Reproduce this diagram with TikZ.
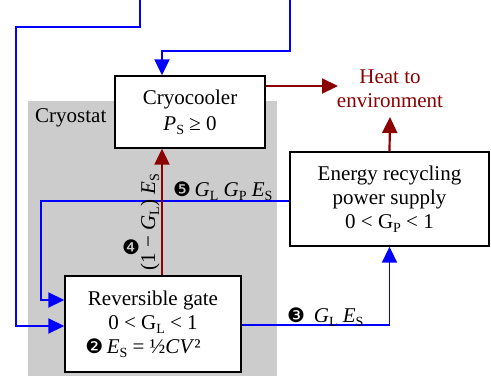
\documentclass[tikz,border=0pt]{standalone}
\usepackage{fontspec}
\setmainfont{Liberation Serif}
\newfontfamily\djfont{DejaVu Sans}
\usetikzlibrary{arrows.meta}
\definecolor{heatred}{RGB}{139,0,0}
\definecolor{flowblue}{RGB}{0,0,255}
\definecolor{cryogray}{RGB}{204,204,204}
\newcommand\lo[1]{\raisebox{-4pt}{\fontsize{14}{14}\selectfont #1}}
\newcommand\cnum[1]{{\fontsize{20}{20}\djfont #1}}
\begin{document}
\begin{tikzpicture}[x=1pt,y=-1pt,
  font=\fontsize{21}{24}\selectfont,
  box/.style={draw=black, line width=1.4pt, fill=white, align=center, inner sep=0pt},
  bflow/.style={draw=flowblue, line width=1.9pt, -{Triangle[length=16pt,width=15pt]}},
  rflow/.style={draw=heatred, line width=2.2pt, -{Triangle[length=16pt,width=15pt]}},
  lbl/.style={inner sep=0pt, anchor=base west}]
\useasboundingbox (0,0) rectangle (491,376);
\fill[cryogray] (28,101) rectangle (277,376);
\node[lbl] (cryostat) at (35,122) {Cryostat};

\node[box, minimum width=150pt, minimum height=72pt] (cc) at (190,112)
  {Cryocooler\\[2pt] \textit{P}\lo{S} ≥ 0};
\node[box, minimum width=176pt, minimum height=96pt] (gate) at (153,324)
  {Reversible gate\\ 0 < G\lo{L} < 1\\ \hspace*{-20pt}\cnum{❷}\,\textit{E}\lo{S} = ½\textit{CV}²};
\node[box, minimum width=199pt, minimum height=94pt] (en) at (389.5,199)
  {Energy recycling\\ power supply\\ 0 < G\lo{P} < 1};
\node[align=center, text=heatred, inner xsep=0pt, inner ysep=9pt, anchor=south] (heat) at (390,117)
  {Heat to\\ environment};

\coordinate (t1) at (140,0);
\coordinate (t2) at (290,0);
\coordinate (h1) at (338,86);

% supply lines from above
\draw[bflow] (t1) -- (140,27) -- (16,27) |- ([yshift=-2pt]gate.west);
\draw[bflow] (t2) -- (290,51) -- (162,51) -- (cc.north -| 162,0);

% (5) recycled energy back to gate
\draw[bflow] ([yshift=-2pt]en.west) -- (41,201) |- ([yshift=24pt]gate.west);

% (3) gate to power supply
\draw[bflow] ([yshift=-1pt]gate.east) -| (en.south);

% (4) heat from gate to cryocooler
\draw[rflow] (gate.north -| 162,0) -- (cc.south -| 162,0);

% heat to environment
\draw[rflow] ([yshift=26pt]cc.east) -- (h1);
\draw[rflow] (en.north) -- (heat.south);

% labels
\node[rotate=90, anchor=base, inner sep=0pt] (l4) at (155,222)
  {(1 − \textit{G}\lo{L}) \textit{E}\lo{S}};
\node[inner sep=0pt] (n4) at (131,247) {\cnum{❹}};
\node[lbl] (l5) at (173,196)
  {\cnum{❺}\,\textit{G}\lo{L} \textit{G}\lo{P} \textit{E}\lo{S}};
\node[lbl] (l3) at (287,322)
  {\cnum{❸}\, \textit{G}\lo{L} \textit{E}\lo{S}};
\end{tikzpicture}
\end{document}
